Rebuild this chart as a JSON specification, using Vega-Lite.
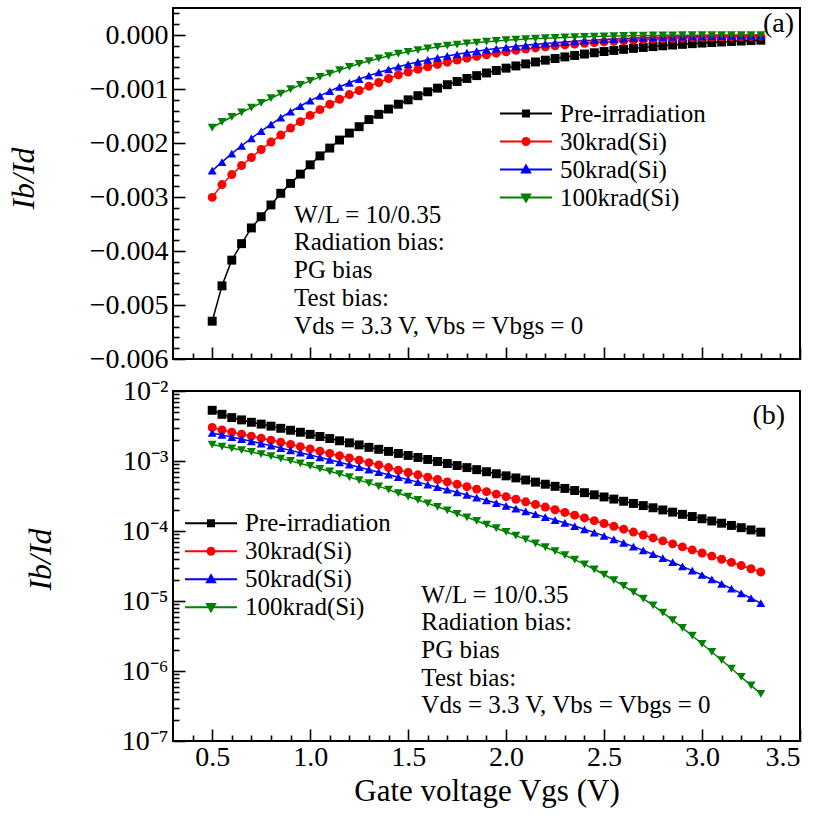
{
"$schema": "https://vega.github.io/schema/vega-lite/v6.json",
"autosize": {"type": "pad"},
"padding": {"left": 6, "top": 7, "right": 5, "bottom": 5},
"background": "white",
"spacing": 2,
"config": {
  "font": "Liberation Serif",
  "view": {"stroke": "black", "strokeWidth": 2},
  "axis": {"grid": false, "domain": false, "tickColor": "black", "tickWidth": 1.6, "labelColor": "black", "titleColor": "black", "labelFont": "Liberation Serif", "titleFont": "Liberation Serif", "labelFontSize": 28, "titleFontWeight": "normal", "labelFontWeight": "normal"},
  "legend": {"labelFont": "Liberation Serif", "labelColor": "black"},
  "text": {"font": "Liberation Serif"}
},
"resolve": {"scale": {"color": "independent", "shape": "independent"}, "legend": {"color": "independent"}},
"data": {"values": [
{"v":0.5,"s":"Pre-irradiation","n":-0.0053,"p":0.0053},
{"v":0.55,"s":"Pre-irradiation","n":-0.004645,"p":0.004645},
{"v":0.6,"s":"Pre-irradiation","n":-0.004169,"p":0.004169},
{"v":0.65,"s":"Pre-irradiation","n":-0.003864,"p":0.003864},
{"v":0.7,"s":"Pre-irradiation","n":-0.003573,"p":0.003573},
{"v":0.75,"s":"Pre-irradiation","n":-0.003365,"p":0.003365},
{"v":0.8,"s":"Pre-irradiation","n":-0.003148,"p":0.003148},
{"v":0.85,"s":"Pre-irradiation","n":-0.002931,"p":0.002931},
{"v":0.9,"s":"Pre-irradiation","n":-0.002748,"p":0.002748},
{"v":0.95,"s":"Pre-irradiation","n":-0.002576,"p":0.002576},
{"v":1.0,"s":"Pre-irradiation","n":-0.002404,"p":0.002404},
{"v":1.05,"s":"Pre-irradiation","n":-0.002239,"p":0.002239},
{"v":1.1,"s":"Pre-irradiation","n":-0.002094,"p":0.002094},
{"v":1.15,"s":"Pre-irradiation","n":-0.001945,"p":0.001945},
{"v":1.2,"s":"Pre-irradiation","n":-0.001816,"p":0.001816},
{"v":1.25,"s":"Pre-irradiation","n":-0.001698,"p":0.001698},
{"v":1.3,"s":"Pre-irradiation","n":-0.001567,"p":0.001567},
{"v":1.35,"s":"Pre-irradiation","n":-0.001469,"p":0.001469},
{"v":1.4,"s":"Pre-irradiation","n":-0.001371,"p":0.001371},
{"v":1.45,"s":"Pre-irradiation","n":-0.001282,"p":0.001282},
{"v":1.5,"s":"Pre-irradiation","n":-0.0012006,"p":0.0012006},
{"v":1.55,"s":"Pre-irradiation","n":-0.0011238,"p":0.0011238},
{"v":1.6,"s":"Pre-irradiation","n":-0.0010517,"p":0.0010517},
{"v":1.65,"s":"Pre-irradiation","n":-0.000984,"p":0.000984},
{"v":1.7,"s":"Pre-irradiation","n":-0.0009204,"p":0.0009204},
{"v":1.75,"s":"Pre-irradiation","n":-0.0008609,"p":0.0008609},
{"v":1.8,"s":"Pre-irradiation","n":-0.0008048,"p":0.0008048},
{"v":1.85,"s":"Pre-irradiation","n":-0.0007522,"p":0.0007522},
{"v":1.9,"s":"Pre-irradiation","n":-0.0007031,"p":0.0007031},
{"v":1.95,"s":"Pre-irradiation","n":-0.0006569,"p":0.0006569},
{"v":2.0,"s":"Pre-irradiation","n":-0.0006137,"p":0.0006137},
{"v":2.05,"s":"Pre-irradiation","n":-0.0005731,"p":0.0005731},
{"v":2.1,"s":"Pre-irradiation","n":-0.000535,"p":0.000535},
{"v":2.15,"s":"Pre-irradiation","n":-0.0004994,"p":0.0004994},
{"v":2.2,"s":"Pre-irradiation","n":-0.0004661,"p":0.0004661},
{"v":2.25,"s":"Pre-irradiation","n":-0.0004347,"p":0.0004347},
{"v":2.3,"s":"Pre-irradiation","n":-0.0004057,"p":0.0004057},
{"v":2.35,"s":"Pre-irradiation","n":-0.0003784,"p":0.0003784},
{"v":2.4,"s":"Pre-irradiation","n":-0.0003527,"p":0.0003527},
{"v":2.45,"s":"Pre-irradiation","n":-0.0003289,"p":0.0003289},
{"v":2.5,"s":"Pre-irradiation","n":-0.0003065,"p":0.0003065},
{"v":2.55,"s":"Pre-irradiation","n":-0.0002856,"p":0.0002856},
{"v":2.6,"s":"Pre-irradiation","n":-0.000266,"p":0.000266},
{"v":2.65,"s":"Pre-irradiation","n":-0.0002477,"p":0.0002477},
{"v":2.7,"s":"Pre-irradiation","n":-0.0002307,"p":0.0002307},
{"v":2.75,"s":"Pre-irradiation","n":-0.0002147,"p":0.0002147},
{"v":2.8,"s":"Pre-irradiation","n":-0.0001998,"p":0.0001998},
{"v":2.85,"s":"Pre-irradiation","n":-0.0001859,"p":0.0001859},
{"v":2.9,"s":"Pre-irradiation","n":-0.000173,"p":0.000173},
{"v":2.95,"s":"Pre-irradiation","n":-0.0001609,"p":0.0001609},
{"v":3.0,"s":"Pre-irradiation","n":-0.0001496,"p":0.0001496},
{"v":3.05,"s":"Pre-irradiation","n":-0.000139,"p":0.000139},
{"v":3.1,"s":"Pre-irradiation","n":-0.0001292,"p":0.0001292},
{"v":3.15,"s":"Pre-irradiation","n":-0.0001201,"p":0.0001201},
{"v":3.2,"s":"Pre-irradiation","n":-0.0001116,"p":0.0001116},
{"v":3.25,"s":"Pre-irradiation","n":-0.0001036,"p":0.0001036},
{"v":3.3,"s":"Pre-irradiation","n":-0.0000962,"p":0.0000962},
{"v":0.5,"s":"30krad(Si)","n":-0.003007,"p":0.003007},
{"v":0.55,"s":"30krad(Si)","n":-0.00277,"p":0.00277},
{"v":0.6,"s":"30krad(Si)","n":-0.002585,"p":0.002585},
{"v":0.65,"s":"30krad(Si)","n":-0.002417,"p":0.002417},
{"v":0.7,"s":"30krad(Si)","n":-0.002268,"p":0.002268},
{"v":0.75,"s":"30krad(Si)","n":-0.00212,"p":0.00212},
{"v":0.8,"s":"30krad(Si)","n":-0.001983,"p":0.001983},
{"v":0.85,"s":"30krad(Si)","n":-0.001853,"p":0.001853},
{"v":0.9,"s":"30krad(Si)","n":-0.001723,"p":0.001723},
{"v":0.95,"s":"30krad(Si)","n":-0.001605,"p":0.001605},
{"v":1.0,"s":"30krad(Si)","n":-0.001488,"p":0.001488},
{"v":1.05,"s":"30krad(Si)","n":-0.001382,"p":0.001382},
{"v":1.1,"s":"30krad(Si)","n":-0.001283,"p":0.001283},
{"v":1.15,"s":"30krad(Si)","n":-0.00119,"p":0.00119},
{"v":1.2,"s":"30krad(Si)","n":-0.001103,"p":0.001103},
{"v":1.25,"s":"30krad(Si)","n":-0.001028,"p":0.001028},
{"v":1.3,"s":"30krad(Si)","n":-0.000948,"p":0.000948},
{"v":1.35,"s":"30krad(Si)","n":-0.00088,"p":0.00088},
{"v":1.4,"s":"30krad(Si)","n":-0.000806,"p":0.000806},
{"v":1.45,"s":"30krad(Si)","n":-0.000738,"p":0.000738},
{"v":1.5,"s":"30krad(Si)","n":-0.0006847,"p":0.0006847},
{"v":1.55,"s":"30krad(Si)","n":-0.0006351,"p":0.0006351},
{"v":1.6,"s":"30krad(Si)","n":-0.0005885,"p":0.0005885},
{"v":1.65,"s":"30krad(Si)","n":-0.0005447,"p":0.0005447},
{"v":1.7,"s":"30krad(Si)","n":-0.0005037,"p":0.0005037},
{"v":1.75,"s":"30krad(Si)","n":-0.0004654,"p":0.0004654},
{"v":1.8,"s":"30krad(Si)","n":-0.0004297,"p":0.0004297},
{"v":1.85,"s":"30krad(Si)","n":-0.0003965,"p":0.0003965},
{"v":1.9,"s":"30krad(Si)","n":-0.0003654,"p":0.0003654},
{"v":1.95,"s":"30krad(Si)","n":-0.0003364,"p":0.0003364},
{"v":2.0,"s":"30krad(Si)","n":-0.0003095,"p":0.0003095},
{"v":2.05,"s":"30krad(Si)","n":-0.0002844,"p":0.0002844},
{"v":2.1,"s":"30krad(Si)","n":-0.0002613,"p":0.0002613},
{"v":2.15,"s":"30krad(Si)","n":-0.0002397,"p":0.0002397},
{"v":2.2,"s":"30krad(Si)","n":-0.0002197,"p":0.0002197},
{"v":2.25,"s":"30krad(Si)","n":-0.0002012,"p":0.0002012},
{"v":2.3,"s":"30krad(Si)","n":-0.0001841,"p":0.0001841},
{"v":2.35,"s":"30krad(Si)","n":-0.0001684,"p":0.0001684},
{"v":2.4,"s":"30krad(Si)","n":-0.0001538,"p":0.0001538},
{"v":2.45,"s":"30krad(Si)","n":-0.0001404,"p":0.0001404},
{"v":2.5,"s":"30krad(Si)","n":-0.000128,"p":0.000128},
{"v":2.55,"s":"30krad(Si)","n":-0.0001166,"p":0.0001166},
{"v":2.6,"s":"30krad(Si)","n":-0.0001062,"p":0.0001062},
{"v":2.65,"s":"30krad(Si)","n":-0.00009656,"p":0.00009656},
{"v":2.7,"s":"30krad(Si)","n":-0.00008772,"p":0.00008772},
{"v":2.75,"s":"30krad(Si)","n":-0.00007965,"p":0.00007965},
{"v":2.8,"s":"30krad(Si)","n":-0.00007224,"p":0.00007224},
{"v":2.85,"s":"30krad(Si)","n":-0.00006548,"p":0.00006548},
{"v":2.9,"s":"30krad(Si)","n":-0.00005929,"p":0.00005929},
{"v":2.95,"s":"30krad(Si)","n":-0.00005363,"p":0.00005363},
{"v":3.0,"s":"30krad(Si)","n":-0.00004847,"p":0.00004847},
{"v":3.05,"s":"30krad(Si)","n":-0.00004377,"p":0.00004377},
{"v":3.1,"s":"30krad(Si)","n":-0.0000395,"p":0.0000395},
{"v":3.15,"s":"30krad(Si)","n":-0.0000356,"p":0.0000356},
{"v":3.2,"s":"30krad(Si)","n":-0.00003207,"p":0.00003207},
{"v":3.25,"s":"30krad(Si)","n":-0.00002886,"p":0.00002886},
{"v":3.3,"s":"30krad(Si)","n":-0.00002594,"p":0.00002594},
{"v":0.5,"s":"50krad(Si)","n":-0.002512,"p":0.002512},
{"v":0.55,"s":"50krad(Si)","n":-0.002355,"p":0.002355},
{"v":0.6,"s":"50krad(Si)","n":-0.002198,"p":0.002198},
{"v":0.65,"s":"50krad(Si)","n":-0.002051,"p":0.002051},
{"v":0.7,"s":"50krad(Si)","n":-0.001914,"p":0.001914},
{"v":0.75,"s":"50krad(Si)","n":-0.001778,"p":0.001778},
{"v":0.8,"s":"50krad(Si)","n":-0.001656,"p":0.001656},
{"v":0.85,"s":"50krad(Si)","n":-0.001531,"p":0.001531},
{"v":0.9,"s":"50krad(Si)","n":-0.001419,"p":0.001419},
{"v":0.95,"s":"50krad(Si)","n":-0.001315,"p":0.001315},
{"v":1.0,"s":"50krad(Si)","n":-0.001216,"p":0.001216},
{"v":1.05,"s":"50krad(Si)","n":-0.001127,"p":0.001127},
{"v":1.1,"s":"50krad(Si)","n":-0.00104,"p":0.00104},
{"v":1.15,"s":"50krad(Si)","n":-0.000959,"p":0.000959},
{"v":1.2,"s":"50krad(Si)","n":-0.000885,"p":0.000885},
{"v":1.25,"s":"50krad(Si)","n":-0.000815,"p":0.000815},
{"v":1.3,"s":"50krad(Si)","n":-0.000752,"p":0.000752},
{"v":1.35,"s":"50krad(Si)","n":-0.000693,"p":0.000693},
{"v":1.4,"s":"50krad(Si)","n":-0.000638,"p":0.000638},
{"v":1.45,"s":"50krad(Si)","n":-0.000587,"p":0.000587},
{"v":1.5,"s":"50krad(Si)","n":-0.000542,"p":0.000542},
{"v":1.55,"s":"50krad(Si)","n":-0.0004994,"p":0.0004994},
{"v":1.6,"s":"50krad(Si)","n":-0.00046,"p":0.00046},
{"v":1.65,"s":"50krad(Si)","n":-0.000423,"p":0.000423},
{"v":1.7,"s":"50krad(Si)","n":-0.0003887,"p":0.0003887},
{"v":1.75,"s":"50krad(Si)","n":-0.0003569,"p":0.0003569},
{"v":1.8,"s":"50krad(Si)","n":-0.0003272,"p":0.0003272},
{"v":1.85,"s":"50krad(Si)","n":-0.0002996,"p":0.0002996},
{"v":1.9,"s":"50krad(Si)","n":-0.0002742,"p":0.0002742},
{"v":1.95,"s":"50krad(Si)","n":-0.0002507,"p":0.0002507},
{"v":2.0,"s":"50krad(Si)","n":-0.0002291,"p":0.0002291},
{"v":2.05,"s":"50krad(Si)","n":-0.000209,"p":0.000209},
{"v":2.1,"s":"50krad(Si)","n":-0.0001905,"p":0.0001905},
{"v":2.15,"s":"50krad(Si)","n":-0.0001735,"p":0.0001735},
{"v":2.2,"s":"50krad(Si)","n":-0.0001578,"p":0.0001578},
{"v":2.25,"s":"50krad(Si)","n":-0.0001434,"p":0.0001434},
{"v":2.3,"s":"50krad(Si)","n":-0.0001302,"p":0.0001302},
{"v":2.35,"s":"50krad(Si)","n":-0.0001176,"p":0.0001176},
{"v":2.4,"s":"50krad(Si)","n":-0.0001059,"p":0.0001059},
{"v":2.45,"s":"50krad(Si)","n":-0.0000951,"p":0.0000951},
{"v":2.5,"s":"50krad(Si)","n":-0.0000851,"p":0.0000851},
{"v":2.55,"s":"50krad(Si)","n":-0.000076,"p":0.000076},
{"v":2.6,"s":"50krad(Si)","n":-0.0000676,"p":0.0000676},
{"v":2.65,"s":"50krad(Si)","n":-0.0000599,"p":0.0000599},
{"v":2.7,"s":"50krad(Si)","n":-0.0000529,"p":0.0000529},
{"v":2.75,"s":"50krad(Si)","n":-0.0000466,"p":0.0000466},
{"v":2.8,"s":"50krad(Si)","n":-0.0000409,"p":0.0000409},
{"v":2.85,"s":"50krad(Si)","n":-0.0000358,"p":0.0000358},
{"v":2.9,"s":"50krad(Si)","n":-0.0000312,"p":0.0000312},
{"v":2.95,"s":"50krad(Si)","n":-0.00002714,"p":0.00002714},
{"v":3.0,"s":"50krad(Si)","n":-0.00002352,"p":0.00002352},
{"v":3.05,"s":"50krad(Si)","n":-0.00002032,"p":0.00002032},
{"v":3.1,"s":"50krad(Si)","n":-0.0000175,"p":0.0000175},
{"v":3.15,"s":"50krad(Si)","n":-0.00001502,"p":0.00001502},
{"v":3.2,"s":"50krad(Si)","n":-0.00001285,"p":0.00001285},
{"v":3.25,"s":"50krad(Si)","n":-0.00001096,"p":0.00001096},
{"v":3.3,"s":"50krad(Si)","n":-0.00000932,"p":0.00000932},
{"v":0.5,"s":"100krad(Si)","n":-0.001717,"p":0.001717},
{"v":0.55,"s":"100krad(Si)","n":-0.001611,"p":0.001611},
{"v":0.6,"s":"100krad(Si)","n":-0.001518,"p":0.001518},
{"v":0.65,"s":"100krad(Si)","n":-0.001432,"p":0.001432},
{"v":0.7,"s":"100krad(Si)","n":-0.001345,"p":0.001345},
{"v":0.75,"s":"100krad(Si)","n":-0.001258,"p":0.001258},
{"v":0.8,"s":"100krad(Si)","n":-0.001171,"p":0.001171},
{"v":0.85,"s":"100krad(Si)","n":-0.001085,"p":0.001085},
{"v":0.9,"s":"100krad(Si)","n":-0.001004,"p":0.001004},
{"v":0.95,"s":"100krad(Si)","n":-0.000924,"p":0.000924},
{"v":1.0,"s":"100krad(Si)","n":-0.00085,"p":0.00085},
{"v":1.05,"s":"100krad(Si)","n":-0.000775,"p":0.000775},
{"v":1.1,"s":"100krad(Si)","n":-0.000713,"p":0.000713},
{"v":1.15,"s":"100krad(Si)","n":-0.000651,"p":0.000651},
{"v":1.2,"s":"100krad(Si)","n":-0.000589,"p":0.000589},
{"v":1.25,"s":"100krad(Si)","n":-0.000533,"p":0.000533},
{"v":1.3,"s":"100krad(Si)","n":-0.000483,"p":0.000483},
{"v":1.35,"s":"100krad(Si)","n":-0.000434,"p":0.000434},
{"v":1.4,"s":"100krad(Si)","n":-0.00039,"p":0.00039},
{"v":1.45,"s":"100krad(Si)","n":-0.000347,"p":0.000347},
{"v":1.5,"s":"100krad(Si)","n":-0.0003105,"p":0.0003105},
{"v":1.55,"s":"100krad(Si)","n":-0.000278,"p":0.000278},
{"v":1.6,"s":"100krad(Si)","n":-0.0002483,"p":0.0002483},
{"v":1.65,"s":"100krad(Si)","n":-0.0002218,"p":0.0002218},
{"v":1.7,"s":"100krad(Si)","n":-0.0001977,"p":0.0001977},
{"v":1.75,"s":"100krad(Si)","n":-0.0001762,"p":0.0001762},
{"v":1.8,"s":"100krad(Si)","n":-0.0001567,"p":0.0001567},
{"v":1.85,"s":"100krad(Si)","n":-0.0001393,"p":0.0001393},
{"v":1.9,"s":"100krad(Si)","n":-0.0001236,"p":0.0001236},
{"v":1.95,"s":"100krad(Si)","n":-0.0001096,"p":0.0001096},
{"v":2.0,"s":"100krad(Si)","n":-0.000097,"p":0.000097},
{"v":2.05,"s":"100krad(Si)","n":-0.0000859,"p":0.0000859},
{"v":2.1,"s":"100krad(Si)","n":-0.0000759,"p":0.0000759},
{"v":2.15,"s":"100krad(Si)","n":-0.0000668,"p":0.0000668},
{"v":2.2,"s":"100krad(Si)","n":-0.0000587,"p":0.0000587},
{"v":2.25,"s":"100krad(Si)","n":-0.0000515,"p":0.0000515},
{"v":2.3,"s":"100krad(Si)","n":-0.0000451,"p":0.0000451},
{"v":2.35,"s":"100krad(Si)","n":-0.000039,"p":0.000039},
{"v":2.4,"s":"100krad(Si)","n":-0.0000334,"p":0.0000334},
{"v":2.45,"s":"100krad(Si)","n":-0.0000284,"p":0.0000284},
{"v":2.5,"s":"100krad(Si)","n":-0.0000239,"p":0.0000239},
{"v":2.55,"s":"100krad(Si)","n":-0.0000199,"p":0.0000199},
{"v":2.6,"s":"100krad(Si)","n":-0.00001644,"p":0.00001644},
{"v":2.65,"s":"100krad(Si)","n":-0.00001343,"p":0.00001343},
{"v":2.7,"s":"100krad(Si)","n":-0.00001084,"p":0.00001084},
{"v":2.75,"s":"100krad(Si)","n":-0.00000865,"p":0.00000865},
{"v":2.8,"s":"100krad(Si)","n":-0.00000682,"p":0.00000682},
{"v":2.85,"s":"100krad(Si)","n":-0.00000533,"p":0.00000533},
{"v":2.9,"s":"100krad(Si)","n":-0.00000414,"p":0.00000414},
{"v":2.95,"s":"100krad(Si)","n":-0.00000319,"p":0.00000319},
{"v":3.0,"s":"100krad(Si)","n":-0.00000245,"p":0.00000245},
{"v":3.05,"s":"100krad(Si)","n":-0.000001871,"p":0.000001871},
{"v":3.1,"s":"100krad(Si)","n":-0.000001426,"p":0.000001426},
{"v":3.15,"s":"100krad(Si)","n":-0.000001084,"p":0.000001084},
{"v":3.2,"s":"100krad(Si)","n":-0.000000822,"p":0.000000822},
{"v":3.25,"s":"100krad(Si)","n":-0.000000624,"p":0.000000624},
{"v":3.3,"s":"100krad(Si)","n":-0.000000472,"p":0.000000472}
]},
"vconcat": [
{
  "width": 627, "height": 351,
  "resolve": {"axis": {"x": "independent", "y": "independent"}},
  "layer": [
    {
      "mark": {"type": "line", "strokeWidth": 1.5},
      "encoding": {
        "x": {"field": "v", "type": "quantitative", "scale": {"domain": [0.3, 3.5], "nice": false, "zero": false},
              "axis": {"orient": "bottom", "values": [0.5, 1.0, 1.5, 2.0, 2.5, 3.0, 3.5], "labels": false, "tickSize": -12, "title": null}},
        "y": {"field": "n", "type": "quantitative", "scale": {"domain": [-0.006, 0.0005], "nice": false, "zero": false},
              "axis": {"orient": "left", "values": [-0.006, -0.005, -0.004, -0.003, -0.002, -0.001, 0], "format": ".3f", "tickSize": -12, "labelPadding": 17,
                       "title": "Ib/Id", "titleFontStyle": "italic", "titleFontSize": 32, "titleAngle": -90, "titleBaseline": "middle", "titleX": -150, "titleY": 170}},
        "color": {"field": "s", "type": "nominal", "scale": {"domain": ["Pre-irradiation", "30krad(Si)", "50krad(Si)", "100krad(Si)"], "range": ["#000000", "#ff0000", "#0000ff", "#008000"]},
                  "legend": {"orient": "none", "legendX": 340.5, "legendY": 93, "title": null, "labelFontSize": 25, "symbolSize": 169, "symbolStrokeWidth": 2, "labelOffset": 21.5, "rowPadding": 2, "padding": 0, "labelLimit": 400,
                    "encode": {"symbols": {"update": {
                      "shape": {"signal": "datum.value === 'Pre-irradiation' ? 'M-4,0H4M-0.46,-0.46H0.46V0.46H-0.46Z' : datum.value === '30krad(Si)' ? 'M-4,0H4M0.54,0A0.54,0.54,0,1,1,-0.54,0A0.54,0.54,0,1,1,0.54,0Z' : datum.value === '50krad(Si)' ? 'M-4,0H4M0,-0.62L0.62,0.48L-0.62,0.48Z' : 'M-4,0H4M0,0.62L0.62,-0.48L-0.62,-0.48Z'"},
                      "size": {"value": 169},
                      "fill": {"signal": "datum.value === 'Pre-irradiation' ? '#000000' : datum.value === '30krad(Si)' ? '#ff0000' : datum.value === '50krad(Si)' ? '#0000ff' : '#008000'"},
                      "stroke": {"signal": "datum.value === 'Pre-irradiation' ? '#000000' : datum.value === '30krad(Si)' ? '#ff0000' : datum.value === '50krad(Si)' ? '#0000ff' : '#008000'"},
                      "strokeWidth": {"value": 2},
                      "opacity": {"value": 1}
                    }}}}}
      }
    },
    {
      "mark": {"type": "point", "filled": true, "opacity": 1, "size": 80},
      "encoding": {
        "x": {"field": "v", "type": "quantitative",
              "axis": {"orient": "bottom", "values": [0.4, 0.6, 0.7, 0.8, 0.9, 1.1, 1.2, 1.3, 1.4, 1.6, 1.7, 1.8, 1.9, 2.1, 2.2, 2.3, 2.4, 2.6, 2.7, 2.8, 2.9, 3.1, 3.2, 3.3, 3.4], "labels": false, "tickSize": -6, "title": null}},
        "y": {"field": "n", "type": "quantitative",
              "axis": {"orient": "left", "values": [-0.0058, -0.0056, -0.0054, -0.0052, -0.0048, -0.0046, -0.0044, -0.0042, -0.0038, -0.0036, -0.0034, -0.0032, -0.0028, -0.0026, -0.0024, -0.0022, -0.0018, -0.0016, -0.0014, -0.0012, -0.0008, -0.0006, -0.0004, -0.0002, 0.0002, 0.0004], "labels": false, "tickSize": -6, "title": null}},
        "color": {"field": "s", "type": "nominal", "legend": null},
        "shape": {"field": "s", "type": "nominal", "scale": {"domain": ["100krad(Si)", "30krad(Si)", "50krad(Si)", "Pre-irradiation"], "range": ["triangle-down", "circle", "triangle-up", "square"]}, "legend": null}
      }
    },
    {
      "data": {"values": [{}]},
      "mark": {"type": "text", "text": ["W/L = 10/0.35", "Radiation bias:", "PG bias", "Test bias:", "Vds = 3.3 V, Vbs = Vbgs = 0"], "align": "left", "baseline": "alphabetic", "fontSize": 25, "lineHeight": 27.7, "font": "Liberation Serif", "color": "black"},
      "encoding": {"x": {"datum": 0.918, "type": "quantitative", "axis": null}, "y": {"datum": -0.003476, "type": "quantitative", "axis": null}}
    },
    {
      "data": {"values": [{}]},
      "mark": {"type": "text", "text": "(a)", "align": "right", "baseline": "alphabetic", "fontSize": 28, "font": "Liberation Serif", "color": "black"},
      "encoding": {"x": {"datum": 3.47, "type": "quantitative", "axis": null}, "y": {"datum": 0.0000611, "type": "quantitative", "axis": null}}
    }
  ]
},
{
  "width": 627, "height": 350,
  "resolve": {"axis": {"x": "independent", "y": "independent"}},
  "layer": [
    {
      "mark": {"type": "line", "strokeWidth": 1.5},
      "encoding": {
        "x": {"field": "v", "type": "quantitative", "scale": {"domain": [0.3, 3.5], "nice": false, "zero": false},
              "axis": {"orient": "bottom", "values": [0.5, 1.0, 1.5, 2.0, 2.5, 3.0, 3.5], "format": ".1f", "tickSize": -12, "labelPadding": 14, "title": "Gate voltage Vgs (V)", "titleFontSize": 31, "titlePadding": 5}},
        "y": {"field": "p", "type": "quantitative", "scale": {"type": "log", "domain": [1e-7, 1e-2], "nice": false},
              "axis": {"orient": "left", "values": [0.01, 0.001, 0.0001, 0.00001, 0.000001, 0.0000001], "labelExpr": "'10' + (datum.value > 0.005 ? '⁻²' : datum.value > 0.0005 ? '⁻³' : datum.value > 0.00005 ? '⁻⁴' : datum.value > 0.000005 ? '⁻⁵' : datum.value > 0.0000005 ? '⁻⁶' : '⁻⁷')", "tickSize": -12, "labelPadding": 17,
                       "title": "Ib/Id", "titleFontStyle": "italic", "titleFontSize": 32, "titleAngle": -90, "titleBaseline": "middle", "titleX": -133, "titleY": 168}},
        "color": {"field": "s", "type": "nominal", "scale": {"domain": ["Pre-irradiation", "30krad(Si)", "50krad(Si)", "100krad(Si)"], "range": ["#000000", "#ff0000", "#0000ff", "#008000"]},
                  "legend": {"orient": "none", "legendX": 25.5, "legendY": 119.7, "title": null, "labelFontSize": 25, "symbolSize": 169, "symbolStrokeWidth": 2, "labelOffset": 21.5, "rowPadding": 2, "padding": 0, "labelLimit": 400,
                    "encode": {"symbols": {"update": {
                      "shape": {"signal": "datum.value === 'Pre-irradiation' ? 'M-4,0H4M-0.46,-0.46H0.46V0.46H-0.46Z' : datum.value === '30krad(Si)' ? 'M-4,0H4M0.54,0A0.54,0.54,0,1,1,-0.54,0A0.54,0.54,0,1,1,0.54,0Z' : datum.value === '50krad(Si)' ? 'M-4,0H4M0,-0.62L0.62,0.48L-0.62,0.48Z' : 'M-4,0H4M0,0.62L0.62,-0.48L-0.62,-0.48Z'"},
                      "size": {"value": 169},
                      "fill": {"signal": "datum.value === 'Pre-irradiation' ? '#000000' : datum.value === '30krad(Si)' ? '#ff0000' : datum.value === '50krad(Si)' ? '#0000ff' : '#008000'"},
                      "stroke": {"signal": "datum.value === 'Pre-irradiation' ? '#000000' : datum.value === '30krad(Si)' ? '#ff0000' : datum.value === '50krad(Si)' ? '#0000ff' : '#008000'"},
                      "strokeWidth": {"value": 2},
                      "opacity": {"value": 1}
                    }}}}}
      }
    },
    {
      "mark": {"type": "point", "filled": true, "opacity": 1, "size": 80},
      "encoding": {
        "x": {"field": "v", "type": "quantitative",
              "axis": {"orient": "bottom", "values": [0.4, 0.6, 0.7, 0.8, 0.9, 1.1, 1.2, 1.3, 1.4, 1.6, 1.7, 1.8, 1.9, 2.1, 2.2, 2.3, 2.4, 2.6, 2.7, 2.8, 2.9, 3.1, 3.2, 3.3, 3.4], "labels": false, "tickSize": -6, "title": null}},
        "y": {"field": "p", "type": "quantitative",
              "axis": {"orient": "left", "values": [0.009, 0.008, 0.007, 0.006, 0.005, 0.004, 0.003, 0.002, 0.0009, 0.0008, 0.0007, 0.0006, 0.0005, 0.0004, 0.0003, 0.0002, 0.00009, 0.00008, 0.00007, 0.00006, 0.00005, 0.00004, 0.00003, 0.00002, 0.000009, 0.000008, 0.000007, 0.000006, 0.000005, 0.000004, 0.000003, 0.000002, 0.0000009, 0.0000008, 0.0000007, 0.0000006, 0.0000005, 0.0000004, 0.0000003, 0.0000002], "labels": false, "tickSize": -6, "title": null}},
        "color": {"field": "s", "type": "nominal", "legend": null},
        "shape": {"field": "s", "type": "nominal", "scale": {"domain": ["100krad(Si)", "30krad(Si)", "50krad(Si)", "Pre-irradiation"], "range": ["triangle-down", "circle", "triangle-up", "square"]}, "legend": null}
      }
    },
    {
      "data": {"values": [{}]},
      "mark": {"type": "text", "text": ["W/L = 10/0.35", "Radiation bias:", "PG bias", "Test bias:", "Vds = 3.3 V, Vbs = Vbgs = 0"], "align": "left", "baseline": "alphabetic", "fontSize": 25, "lineHeight": 27.7, "font": "Liberation Serif", "color": "black"},
      "encoding": {"x": {"datum": 1.5675, "type": "quantitative", "axis": null}, "y": {"datum": 0.00000946, "type": "quantitative", "axis": null}}
    },
    {
      "data": {"values": [{}]},
      "mark": {"type": "text", "text": "(b)", "align": "right", "baseline": "alphabetic", "fontSize": 28, "font": "Liberation Serif", "color": "black"},
      "encoding": {"x": {"datum": 3.424, "type": "quantitative", "axis": null}, "y": {"datum": 0.00341, "type": "quantitative", "axis": null}}
    }
  ]
}
]
}
